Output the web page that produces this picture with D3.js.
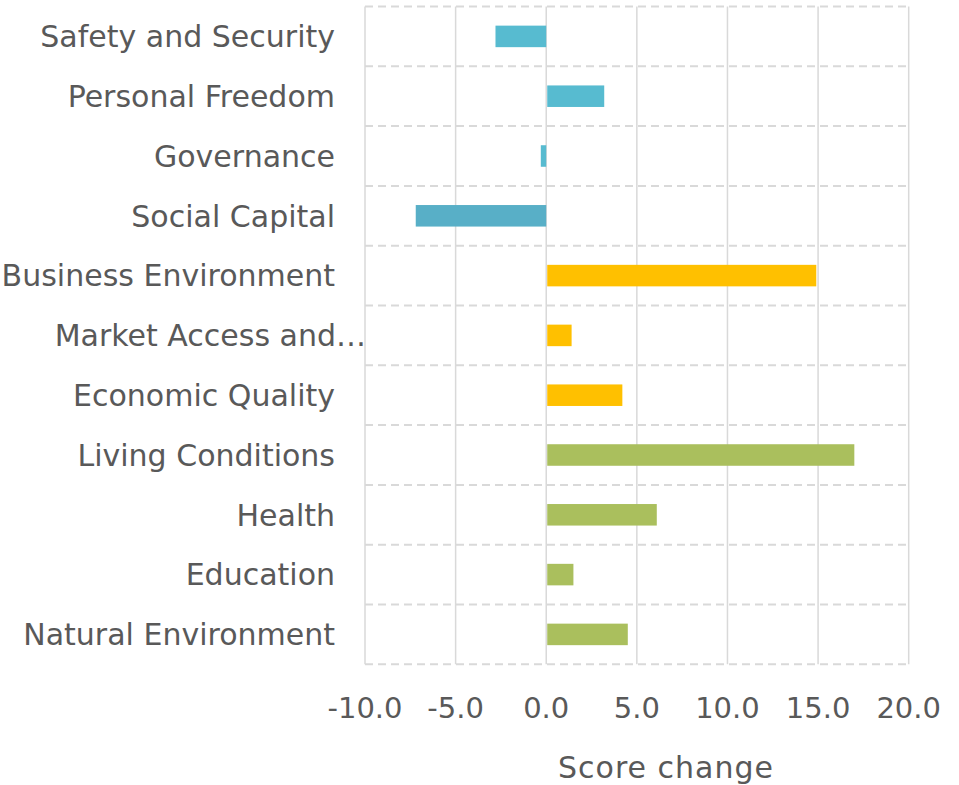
<!DOCTYPE html>
<html>
<head>
<meta charset="utf-8">
<script src="https://cdn.jsdelivr.net/npm/d3@7"></script>
<style>
  body { margin: 0; background: #fff; }
  text { font-family: "DejaVu Sans", sans-serif; fill: #595959; }
</style>
</head>
<body>
<div id="chart"></div>
<script>
// categories, top to bottom
const categories = ["Safety and Security", "Personal Freedom", "Governance", "Social Capital",
    "Business Environment", "Market Access and…", "Economic Quality",
    "Living Conditions", "Health", "Education", "Natural Environment"];
const scoreChange = [-2.8, 3.2, -0.3, -7.2, 14.9, 1.4, 4.2, 17.0, 6.1, 1.5, 4.5];
const barColors = ["#57bbd0", "#57bbd0", "#57bbd0", "#58afc7",
    "#ffc000", "#ffc000", "#ffc000",
    "#aabf5d", "#aabf5d", "#aabf5d", "#aabf5d"];
const xTicks = [-10, -5, 0, 5, 10, 15, 20];
const xTitle = "Score change";

const width = 959, height = 785;
const margin = {top: 6.5, right: 50, bottom: 121, left: 365};

const svg = d3.select("#chart").append("svg")
    .attr("width", width)
    .attr("height", height);

const x = d3.scaleLinear()
    .domain([-10, 20])
    .range([margin.left, width - margin.right - 0.3]);

const y = d3.scaleBand()
    .domain(categories)
    .range([margin.top, height - margin.bottom + 0.3])
    .paddingInner(0.64)
    .paddingOuter(0.32);

const step = y.step();
const top0 = margin.top, bottom0 = margin.top + step * categories.length;

// vertical gridlines
svg.append("g")
    .selectAll("line")
    .data(xTicks)
    .join("line")
    .attr("x1", d => x(d)).attr("x2", d => x(d))
    .attr("y1", top0).attr("y2", bottom0)
    .attr("stroke", "#d9d9d9")
    .attr("stroke-width", 1.5);

// horizontal dashed row separators
svg.append("g")
    .selectAll("line")
    .data(d3.range(categories.length + 1))
    .join("line")
    .attr("x1", x(-10)).attr("x2", x(20))
    .attr("y1", i => top0 + i * step).attr("y2", i => top0 + i * step)
    .attr("stroke", "#d9d9d9")
    .attr("stroke-width", 2)
    .attr("stroke-dasharray", "8,5");

// bars
svg.append("g")
    .selectAll("rect")
    .data(scoreChange)
    .join("rect")
    .attr("x", d => d < 0 ? x(d) : x(0) + 1)
    .attr("width", d => Math.abs(x(d) - x(0)) - (d < 0 ? 0 : 1))
    .attr("y", (d, i) => y(categories[i]))
    .attr("height", y.bandwidth())
    .attr("fill", (d, i) => barColors[i]);

// category labels (truncated one spills up to the plot edge, as in Excel)
svg.append("g")
    .selectAll("text")
    .data(categories)
    .join("text")
    .attr("x", d => d.endsWith("…") ? margin.left + 1 : margin.left - 30)
    .attr("y", d => y(d) + y.bandwidth() / 2)
    .attr("dy", "0.36em")
    .attr("text-anchor", "end")
    .attr("font-size", 30)
    .text(d => d);

// x tick labels, plain hyphen for negatives
svg.append("g")
    .selectAll("text")
    .data(xTicks)
    .join("text")
    .attr("x", d => x(d))
    .attr("y", 718)
    .attr("text-anchor", "middle")
    .attr("font-size", 29)
    .text(d => d.toFixed(1));

// axis title
svg.append("text")
    .attr("x", 666)
    .attr("y", 778)
    .attr("text-anchor", "middle")
    .attr("font-size", 30)
    .attr("letter-spacing", 1)
    .text(xTitle);
</script>
</body>
</html>
